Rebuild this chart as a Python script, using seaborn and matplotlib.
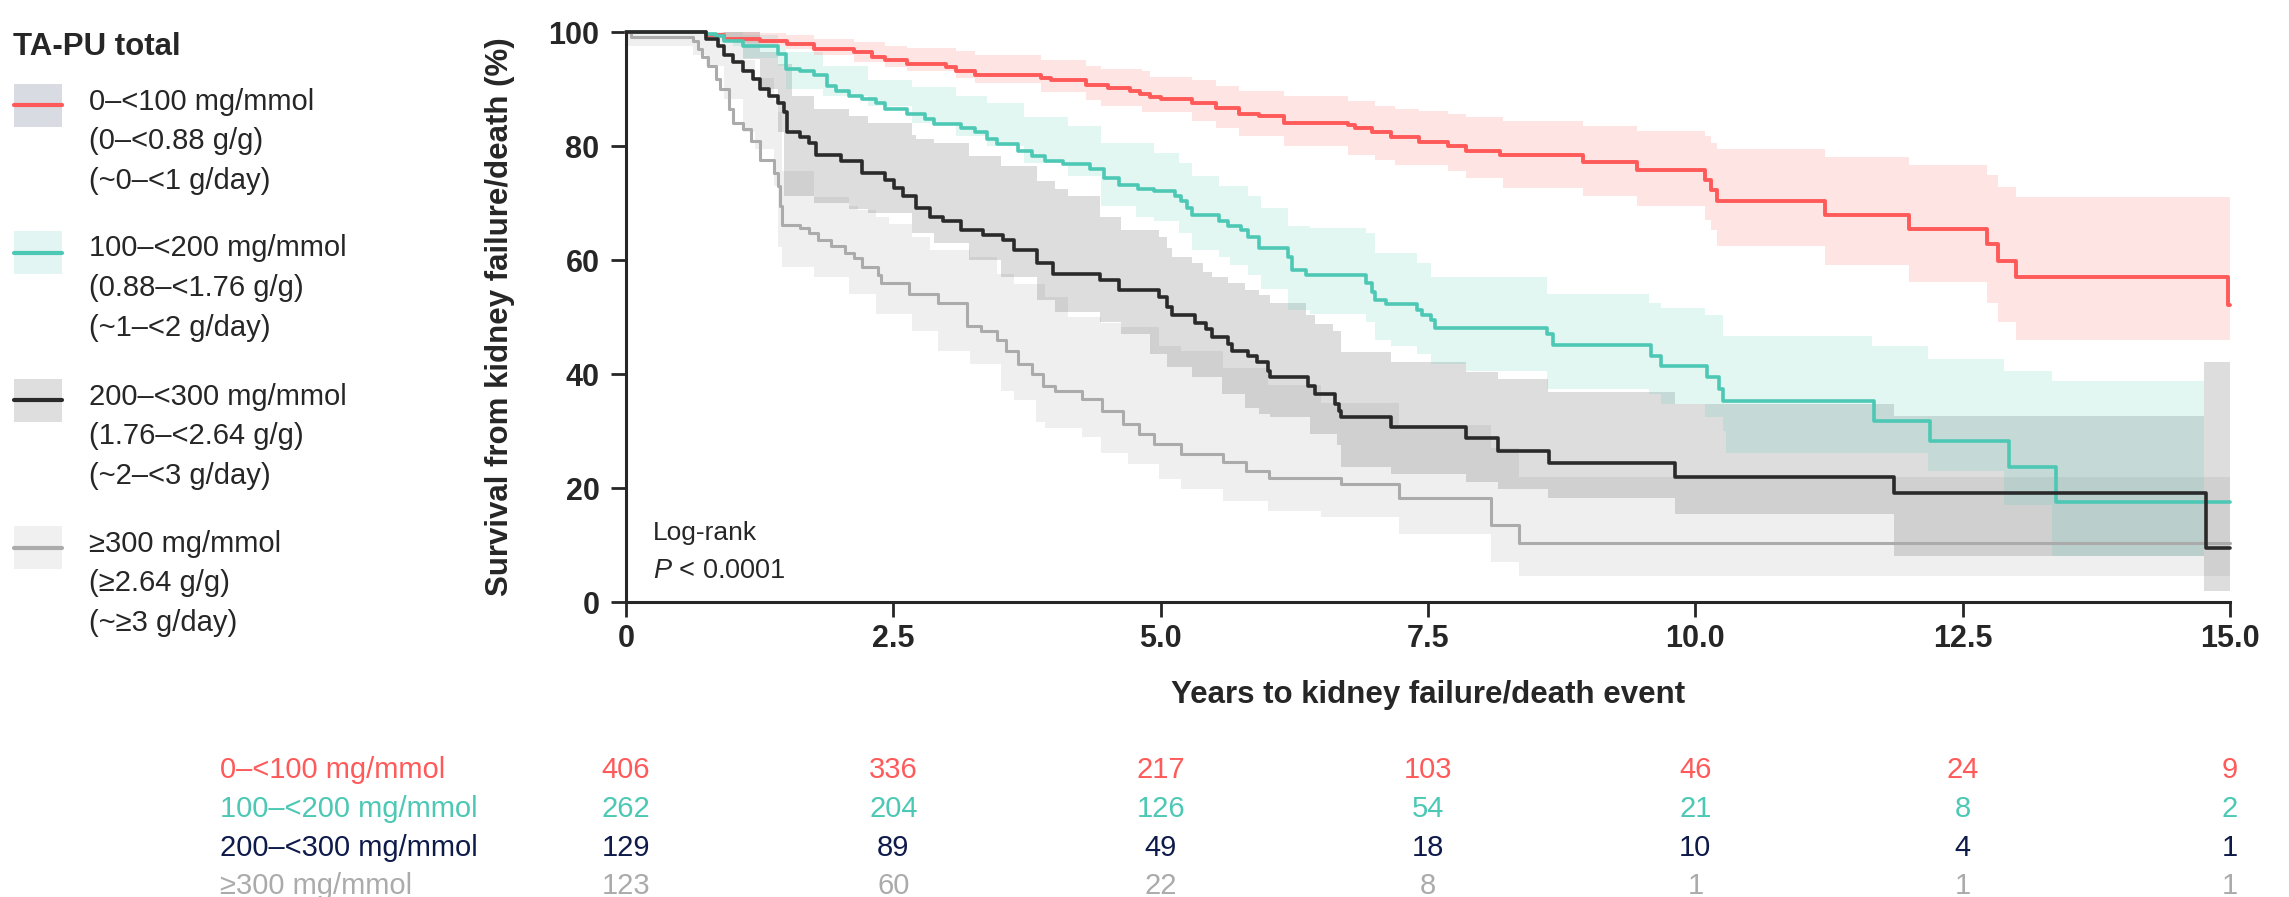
import matplotlib
matplotlib.use('Agg')
import matplotlib.pyplot as plt
import matplotlib.transforms as mtransforms
from matplotlib.patches import Rectangle
from matplotlib.lines import Line2D
import seaborn as sns

# Kaplan-Meier curves (years, survival %)
red_t = [0, 0.75, 0.92, 1.25, 1.51, 1.76, 2.13, 2.30, 2.42, 2.63, 2.99, 3.09, 3.26, 3.88, 3.97,
         4.30, 4.51, 4.71, 4.81, 4.90, 5.00, 5.29, 5.52, 5.73, 5.92, 6.15, 6.75, 6.82, 6.98, 7.15,
         7.42, 7.69, 7.86, 8.17, 8.95, 9.45, 10.09, 10.15, 10.20, 11.21, 12.00, 12.73, 12.83,
         13.00, 14.98, 15.0]
red_s = [100, 99.5, 98.8, 98.4, 97.9, 97.1, 96.5, 95.6, 95.0, 94.4, 93.8, 93.1, 92.4, 91.9, 91.5,
         90.7, 90.1, 89.6, 89.1, 88.6, 88.2, 87.6, 86.6, 85.6, 85.2, 84.1, 83.6, 83.1, 82.4, 81.6,
         80.7, 80.0, 79.1, 78.4, 77.2, 75.8, 74.1, 72.2, 70.4, 67.9, 65.5, 62.8, 59.8,
         57.1, 52.1, 52.1]

teal_t = [0, 0.75, 0.84, 0.92, 1.09, 1.42, 1.50, 1.63, 1.76, 1.88, 1.96, 2.09, 2.21, 2.34, 2.42,
          2.63, 2.80, 2.88, 3.13, 3.26, 3.38, 3.47, 3.67, 3.80, 3.92, 4.09, 4.34, 4.47, 4.61, 4.79,
          4.94, 5.13, 5.19, 5.25, 5.29, 5.55, 5.63, 5.75, 5.82, 5.92, 6.19, 6.23, 6.36, 6.92, 6.98,
          7.00, 7.11, 7.40, 7.44, 7.53, 7.57, 8.61, 8.67, 9.59, 9.68, 10.11, 10.22, 10.26, 11.67,
          12.19, 12.93, 13.37, 15.0]
teal_s = [100, 99.7, 99.3, 98.5, 97.6, 96.2, 93.5, 93.2, 92.4, 90.6, 89.7, 88.8, 88.2, 87.6, 86.5,
          85.6, 84.7, 83.8, 83.2, 82.5, 81.2, 80.3, 79.1, 78.2, 77.4, 76.8, 75.9, 74.4, 73.2, 72.5,
          72.1, 71.2, 70.3, 69.1, 67.9, 66.8, 65.9, 65.3, 64.0, 62.1, 60.6, 58.2, 57.4, 55.9, 54.4,
          52.9, 52.2, 51.2, 50.3, 49.4, 48.1, 47.1, 45.0, 43.2, 41.4, 39.4, 37.4, 35.2, 31.7,
          28.2, 23.7, 17.6, 17.6]

black_t = [0, 0.75, 0.86, 0.92, 1.00, 1.09, 1.19, 1.25, 1.34, 1.42, 1.48, 1.51, 1.63, 1.71, 1.78,
           2.01, 2.21, 2.42, 2.51, 2.59, 2.71, 2.84, 2.96, 3.13, 3.34, 3.53, 3.63, 3.84, 3.99, 4.43,
           4.61, 4.98, 5.06, 5.11, 5.32, 5.42, 5.48, 5.63, 5.67, 5.82, 5.90, 6.00, 6.02, 6.38, 6.44,
           6.63, 6.67, 6.69, 7.15, 7.86, 8.15, 8.63, 9.81, 11.86, 14.78, 15.0]
black_s = [100, 98.8, 97.6, 95.9, 94.7, 93.2, 91.8, 90.0, 88.8, 87.6, 85.9, 82.4, 81.5, 80.6, 78.5,
           77.4, 75.3, 74.1, 72.6, 71.2, 69.1, 67.6, 66.8, 65.3, 64.4, 63.5, 61.8, 59.4, 57.6, 56.5,
           54.7, 53.5, 51.8, 50.3, 48.9, 47.9, 46.5, 45.3, 44.1, 43.2, 42.1, 40.6, 39.4, 37.9, 36.5,
           34.7, 33.5, 32.4, 30.7, 28.8, 26.5, 24.4, 22.0, 19.1, 9.5, 9.5]

gray_t = [0, 0.05, 0.63, 0.67, 0.71, 0.77, 0.84, 0.88, 0.96, 1.00, 1.09, 1.17, 1.25, 1.38, 1.42,
          1.44, 1.46, 1.63, 1.71, 1.80, 1.92, 2.05, 2.13, 2.21, 2.36, 2.38, 2.65, 2.92, 3.19, 3.32,
          3.47, 3.55, 3.67, 3.80, 3.90, 4.01, 4.26, 4.45, 4.65, 4.80, 4.94, 5.19, 5.58, 5.80, 6.01,
          6.69, 7.23, 8.09, 8.35, 15.0]
gray_s = [100, 99.2, 98.5, 97.1, 95.6, 94.1, 91.8, 90.0, 86.5, 84.1, 82.9, 80.9, 77.6, 75.3, 72.9,
          69.4, 66.2, 65.6, 64.7, 63.5, 62.4, 61.2, 60.3, 58.8, 57.4, 55.9, 54.1, 52.4, 48.5, 47.6,
          45.9, 44.1, 41.8, 40.0, 37.9, 37.1, 35.6, 33.5, 31.2, 29.5, 27.7, 26.0, 24.5, 23.0, 21.8,
          20.7, 18.3, 13.5, 10.3, 10.3]

# 95% CI bands (time, lower, upper)
red_ci_t = [0, 0.9, 1.0, 1.25, 1.5, 1.76, 2.13, 2.42, 2.63, 3.09, 3.26, 3.88, 4.30, 4.44, 4.83,
            4.90, 5.29, 5.52, 5.73, 6.15, 6.75, 7.00, 7.19, 7.42, 7.69, 7.86, 8.20, 8.95, 9.45,
            10.09, 10.15, 10.20, 11.21, 12.00, 12.73, 12.83, 13.00, 15.0]
red_ci_lo = [100, 99, 98, 97.5, 97, 95.9, 94.8, 93.8, 93.2, 92.0, 91.0, 89.4, 88.0, 87.1, 85.9,
             85.9, 84.4, 83.2, 81.8, 80.0, 78.5, 77.6, 76.6, 76.6, 75.6, 74.4, 72.6, 71.2, 69.4,
             67.1, 65.3, 62.5, 59.1, 56.1, 52.4, 49.1, 45.9, 45.9]
red_ci_hi = [100, 100, 100, 99.8, 99.5, 98.8, 98.2, 97.6, 97.2, 96.6, 96.0, 95.0, 94.0, 93.5, 93.2,
             92.1, 91.5, 90.6, 89.7, 88.7, 87.9, 87.1, 86.5, 86.2, 85.6, 85.0, 84.4, 83.5, 82.6,
             81.8, 80.5, 79.4, 78.1, 76.6, 74.9, 72.8, 71.0, 71.0]

teal_ci_t = [0, 0.75, 1.0, 1.09, 1.42, 1.50, 1.84, 2.26, 2.67, 3.09, 3.38, 3.72, 4.13, 4.44, 4.77,
             4.94, 5.17, 5.29, 5.55, 5.65, 5.82, 5.94, 6.19, 6.40, 6.92, 7.00, 7.15, 7.40, 7.53,
             7.86, 8.61, 9.57, 9.68, 10.09, 10.26, 10.29, 11.65, 12.18, 12.89, 13.34, 14.76]
teal_ci_lo = [100, 99, 97.5, 95.5, 94.1, 90.0, 88.8, 87.1, 84.1, 81.8, 80.0, 77.1, 74.7, 69.4, 67.6,
              66.8, 64.7, 61.8, 60.6, 59.1, 57.4, 55.0, 51.2, 50.6, 49.1, 45.9, 45.0, 43.5, 41.8,
              40.6, 37.4, 36.5, 34.7, 32.4, 30.0, 26.2, 26.2, 22.9, 17.0, 8.0, 8.0]
teal_ci_hi = [100, 100, 100, 99.5, 97.5, 96.5, 94.1, 91.5, 90.3, 88.8, 87.6, 85.0, 83.5, 80.6, 80.6,
              78.8, 77.1, 74.7, 72.9, 72.9, 71.2, 69.1, 65.9, 65.6, 64.7, 61.2, 61.2, 59.4, 57.1,
              57.1, 54.1, 52.4, 51.5, 50.3, 46.7, 46.7, 45.0, 42.6, 40.6, 38.7, 38.7]

black_ci_t = [0, 0.92, 1.09, 1.25, 1.42, 1.48, 1.55, 1.76, 2.09, 2.26, 2.67, 2.71, 2.88, 3.21, 3.51,
              3.84, 4.01, 4.13, 4.43, 4.63, 4.90, 4.98, 5.06, 5.11, 5.29, 5.40, 5.48, 5.57, 5.63,
              5.79, 5.92, 6.02, 6.36, 6.40, 6.44, 6.61, 6.65, 6.69, 7.15, 7.86, 8.15, 8.62, 9.81,
              11.86, 14.76, 15.0]
black_ci_lo = [100, 99, 95.3, 90, 82.4, 71.2, 71.2, 70.0, 69.0, 68.2, 64.7, 64.7, 63.0, 60.0, 57.1,
               52.9, 50.9, 50.9, 49.1, 47.1, 43.5, 43.5, 41.2, 41.2, 39.4, 39.4, 39.4, 36.5, 36.5,
               34.1, 32.9, 32.4, 32.4, 29.4, 29.4, 29.4, 27.6, 23.6, 22.4, 21.0, 19.9, 18.3, 15.5,
               8.0, 2.0, 2.0]
black_ci_hi = [100, 100, 100, 96.5, 94.4, 94.4, 88.8, 86.5, 85.3, 84.1, 82.0, 81.2, 80.6, 78.2, 76.5,
               73.8, 72.5, 71.2, 67.6, 65.3, 65.3, 64.1, 62.1, 60.6, 59.4, 57.9, 57.1, 57.1, 55.9,
               54.7, 53.8, 52.4, 50.3, 50.3, 48.8, 47.6, 47.6, 43.8, 42.1, 40.3, 39.1, 36.8, 34.7,
               32.7, 42.1, 42.1]

gray_ci_t = [0, 0.59, 0.63, 0.75, 0.92, 1.09, 1.21, 1.38, 1.42, 1.46, 1.76, 2.09, 2.17, 2.34, 2.46,
             2.67, 2.84, 2.92, 3.22, 3.47, 3.51, 3.63, 3.83, 3.92, 4.13, 4.26, 4.44, 4.63, 4.69,
             4.98, 5.19, 5.58, 6.0, 6.5, 7.23, 8.09, 8.35, 15.0]
gray_ci_lo = [97.5, 97.5, 96, 94.1, 88.2, 82.4, 79.4, 73.0, 62.3, 58.8, 57.0, 54.1, 54.1, 50.6, 50.6,
              47.6, 47.6, 44.1, 41.8, 41.8, 37.1, 35.5, 31.5, 30.5, 30.5, 28.9, 26.2, 26.2, 24.2,
              21.6, 19.8, 17.8, 16.0, 15.0, 12.0, 7.0, 4.5, 4.5]
gray_ci_hi = [100, 100, 100, 99.5, 98, 95, 92, 88, 86, 75.7, 71.1, 69.5, 68.7, 67.5, 66.4,
              64.0, 61.7, 61.7, 60.5, 57.6, 57.6, 55.8, 55.8, 53.5, 50.0, 50.0, 49.0, 48.2, 48.2,
              45.0, 44.0, 41.0, 38.0, 35.0, 31.0, 27.0, 22.0, 22.0]

# Legend / table text
legend_title = 'TA-PU total'
legend_labels = [
    ['0–<100 mg/mmol', '(0–<0.88 g/g)', '(~0–<1 g/day)'],
    ['100–<200 mg/mmol', '(0.88–<1.76 g/g)', '(~1–<2 g/day)'],
    ['200–<300 mg/mmol', '(1.76–<2.64 g/g)', '(~2–<3 g/day)'],
    ['≥300 mg/mmol', '(≥2.64 g/g)', '(~≥3 g/day)'],
]
risk_labels = ['0–<100 mg/mmol', '100–<200 mg/mmol', '200–<300 mg/mmol', '≥300 mg/mmol']
risk_times = [0, 2.5, 5.0, 7.5, 10.0, 12.5, 15.0]
risk_red = [406, 336, 217, 103, 46, 24, 9]
risk_teal = [262, 204, 126, 54, 21, 8, 2]
risk_black = [129, 89, 49, 18, 10, 4, 1]
risk_gray = [123, 60, 22, 8, 1, 1, 1]

x_ticks = [0, 2.5, 5.0, 7.5, 10.0, 12.5, 15.0]
x_ticklabels = ['0', '2.5', '5.0', '7.5', '10.0', '12.5', '15.0']
y_ticks = [0, 20, 40, 60, 80, 100]

# Colours
RED = '#FF5A5A'
TEAL = '#4DC8B4'
BLACK = '#2A2A2A'
GRAY = '#ABABAB'
NAVY = '#0E1A4A'
line_colors = [RED, TEAL, BLACK, GRAY]
patch_colors = ['#D9DBE3', '#E3F5F3', '#DEDEDE', '#F0F0F0']
table_colors = [RED, TEAL, NAVY, GRAY]

sns.set_style('ticks')
plt.rcParams['font.family'] = ['Liberation Sans', 'DejaVu Sans']
plt.rcParams['mathtext.fontset'] = 'custom'
plt.rcParams['mathtext.it'] = 'Liberation Sans:italic'
plt.rcParams['mathtext.rm'] = 'Liberation Sans'

W, H = 2289, 897
fig = plt.figure(figsize=(W / 100, H / 100), dpi=100)
fig.patch.set_facecolor('white')


def fx(px):
    return px / W


def fy(py):
    return 1 - py / H


ax = fig.add_axes([fx(626), fy(602), (2230 - 626) / W, (602 - 32) / H])
ax.set_facecolor('white')

bands = [
    (gray_ci_t, gray_ci_lo, gray_ci_hi, GRAY, 0.18),
    (black_ci_t, black_ci_lo, black_ci_hi, BLACK, 0.155),
    (teal_ci_t, teal_ci_lo, teal_ci_hi, TEAL, 0.16),
    (red_ci_t, red_ci_lo, red_ci_hi, RED, 0.16),
]
for t, lo, hi, c, a in bands:
    ax.fill_between(t, lo, hi, step='post', color=c, alpha=a, lw=0)

# red first so the darker curves sit on top where they overlap at 100 %
curves = [
    (red_t, red_s, RED, 2.8),
    (teal_t, teal_s, TEAL, 2.6),
    (gray_t, gray_s, GRAY, 2.2),
    (black_t, black_s, BLACK, 2.6),
]
for t, s, c, lw in curves:
    sns.lineplot(x=t, y=s, ax=ax, color=c, lw=lw, drawstyle='steps-post',
                 estimator=None, sort=False, clip_on=False)

ax.set_xlim(0, 15)
ax.set_ylim(0, 100)
ax.set_xticks(x_ticks)
ax.set_xticklabels(x_ticklabels)
ax.set_yticks(y_ticks)
sns.despine(ax=ax)
for sp in ['left', 'bottom']:
    ax.spines[sp].set_linewidth(2.2)
ax.tick_params(axis='both', direction='out', length=11, width=2.0, labelsize=22)
ax.tick_params(axis='y', pad=8)
ax.tick_params(axis='x', pad=5)
for lab in ax.get_xticklabels() + ax.get_yticklabels():
    lab.set_fontweight('bold')

ax.set_xlabel('Years to kidney failure/death event', fontsize=22.5, fontweight='bold')
ax.set_ylabel('Survival from kidney failure/death (%)', fontsize=22.5, fontweight='bold')
ax.xaxis.set_label_coords(0.5, -0.136)
ax.yaxis.set_label_coords(-0.069, 0.5)

# Log-rank annotation
fig.text(fx(653), fy(540), 'Log-rank', fontsize=19, va='baseline', ha='left')
fig.text(fx(653), fy(578), r'$\mathit{P}$ < 0.0001', fontsize=19.5, va='baseline', ha='left')

# Legend drawn at the left of the figure
fig.text(fx(13), fy(55), legend_title, fontsize=22.5, fontweight='bold', va='baseline', ha='left')
line1_centers = [99, 246, 394, 541]
for i, c0 in enumerate(line1_centers):
    fig.add_artist(Rectangle((fx(14), fy(c0 + 28)), 48 / W, 43 / H, transform=fig.transFigure,
                             facecolor=patch_colors[i], edgecolor='none'))
    fig.add_artist(Line2D([fx(14), fx(62)], [fy(c0 + 6.5), fy(c0 + 6.5)], transform=fig.transFigure,
                          color=line_colors[i], lw=3))
    for j, txt in enumerate(legend_labels[i]):
        fig.text(fx(89), fy(c0 + 10.5 + 39.5 * j), txt, fontsize=21, va='baseline', ha='left')

# Number at risk table
trans = mtransforms.blended_transform_factory(ax.transData, fig.transFigure)
row_centers = [767, 806, 845, 883]
risk_rows = [risk_red, risk_teal, risk_black, risk_gray]
for i, (lab, vals) in enumerate(zip(risk_labels, risk_rows)):
    yb = fy(row_centers[i] + 10.5)
    fig.text(fx(220), yb, lab, fontsize=21, color=table_colors[i], va='baseline', ha='left')
    for t, v in zip(risk_times, vals):
        ax.text(t, yb, str(v), transform=trans, fontsize=21, color=table_colors[i],
                va='baseline', ha='center', clip_on=False)

fig.savefig('out.png', dpi=100, facecolor='white')
